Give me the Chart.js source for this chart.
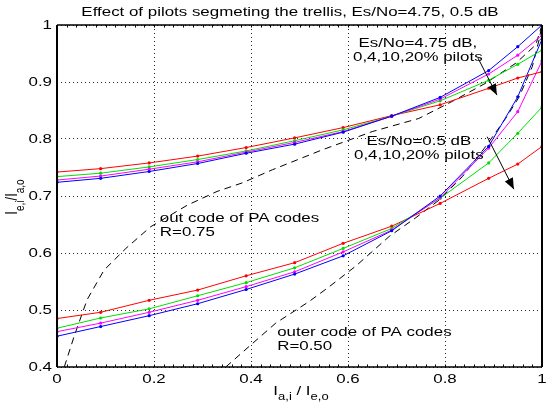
<!DOCTYPE html>
<html><head><meta charset="utf-8">
<script src="https://cdn.jsdelivr.net/npm/chart.js@4.4.1/dist/chart.umd.min.js"></script>
<style>html,body{margin:0;padding:0;background:#fff}canvas{display:block}</style>
</head><body>
<canvas id="c" width="546" height="405"></canvas>
<script>
// sample points along I_a,i (shared by all pilot curves)
const X_PTS = [0, 0.09, 0.19, 0.29, 0.39, 0.49, 0.59, 0.69, 0.79, 0.89, 0.95, 1.0];

// Es/No = 4.75 dB
const HI_P0  = [0.724, 0.731, 0.743, 0.757, 0.775, 0.791, 0.812, 0.840, 0.873, 0.920, 0.962, 1.000];
const HI_P4  = [0.728, 0.735, 0.747, 0.760, 0.777, 0.794, 0.813, 0.840, 0.870, 0.914, 0.947, 0.982];
const HI_P10 = [0.734, 0.740, 0.751, 0.764, 0.779, 0.797, 0.816, 0.840, 0.867, 0.903, 0.931, 0.956];
const HI_P20 = [0.742, 0.748, 0.758, 0.770, 0.785, 0.802, 0.820, 0.841, 0.860, 0.889, 0.907, 0.918];

// Es/No = 0.5 dB
const LO_P0  = [0.454, 0.471, 0.490, 0.511, 0.536, 0.563, 0.595, 0.639, 0.700, 0.787, 0.874, 0.975];
const LO_P4  = [0.462, 0.477, 0.496, 0.517, 0.541, 0.567, 0.602, 0.640, 0.697, 0.784, 0.848, 0.937];
const LO_P10 = [0.468, 0.486, 0.502, 0.525, 0.548, 0.574, 0.608, 0.643, 0.696, 0.758, 0.810, 0.856];
const LO_P20 = [0.485, 0.496, 0.517, 0.535, 0.560, 0.583, 0.617, 0.647, 0.687, 0.731, 0.756, 0.787];

// outer PA code curves (dashed)
const R75_X = [0.015, 0.035, 0.062, 0.097, 0.142, 0.193, 0.269, 0.33, 0.382, 0.444, 0.547, 0.65, 0.746, 0.815, 0.884, 0.946, 0.987, 1.0];
const R75_Y = [0.40, 0.453, 0.518, 0.57, 0.608, 0.646, 0.684, 0.708, 0.723, 0.746, 0.781, 0.813, 0.836, 0.866, 0.898, 0.933, 0.965, 1.0];
const R50_X = [0.348, 0.396, 0.451, 0.52, 0.56, 0.616, 0.685, 0.74, 0.788, 0.836, 0.884, 0.925, 0.953, 0.98, 0.994, 1.0];
const R50_Y = [0.40, 0.436, 0.477, 0.515, 0.54, 0.577, 0.629, 0.662, 0.693, 0.734, 0.787, 0.836, 0.874, 0.927, 0.974, 1.0];

const TITLE = 'Effect of pilots segmeting the trellis, Es/No=4.75, 0.5 dB';

const BLUE = '#0000ff', MAG = '#ff00ff', GRN = '#00e000', RED = '#ff0000';
const FONT = '"Liberation Sans", Arial, Helvetica, sans-serif';
const SX = 1.3; // the original text is stretched horizontally

const pts = ys => X_PTS.map((x, i) => ({ x, y: ys[i] }));
const zip = (xs, ys) => xs.map((x, i) => ({ x, y: ys[i] }));

const solid = (data, c) => ({
  data, borderColor: c, backgroundColor: c, borderWidth: 1,
  pointRadius: 1.6, pointBorderWidth: 0, pointBackgroundColor: c, tension: 0
});
const dashed = data => ({
  data, borderColor: '#000', borderWidth: 1, borderDash: [7, 5], pointRadius: 0, tension: 0
});

// text + arrows, placed in data coordinates
const NOTES = [
  { lines: ['Es/No=4.75 dB,', '0,4,10,20% pilots'], x: 0.744, y: 0.968, align: 'center' },
  { lines: ['Es/No=0.5 dB', '0,4,10,20% pilots'], x: 0.746, y: 0.795, align: 'center' },
  { lines: ['out code of PA codes', 'R=0.75'], x: 0.212, y: 0.660, align: 'left' },
  { lines: ['outer code of PA codes', 'R=0.50'], x: 0.454, y: 0.461, align: 'left' }
];
const ARROWS = [
  [[0.868, 0.942], [0.907, 0.877]],
  [[0.887, 0.804], [0.942, 0.712]]
];

function txt(ctx, s, x, y, align, size) {
  ctx.save();
  ctx.translate(x, y); ctx.scale(SX, 1);
  ctx.font = size + 'px ' + FONT;
  ctx.textAlign = align; ctx.textBaseline = 'middle'; ctx.fillStyle = '#000';
  ctx.fillText(s, 0, 0);
  ctx.restore();
}

// parts: [text, size, baseline shift]
function subLabel(ctx, parts) {
  let w = 0;
  parts.forEach(p => { ctx.font = p[1] + 'px ' + FONT; w += ctx.measureText(p[0]).width; });
  let x = -w / 2;
  ctx.textBaseline = 'alphabetic'; ctx.textAlign = 'left'; ctx.fillStyle = '#000';
  parts.forEach(p => { ctx.font = p[1] + 'px ' + FONT; ctx.fillText(p[0], x, p[2]); x += ctx.measureText(p[0]).width; });
}

const decor = {
  id: 'decor',
  afterDraw(chart) {
    const { ctx, chartArea: a, scales: { x, y } } = chart;
    ctx.save();
    // frame
    ctx.strokeStyle = '#000';
    ctx.lineWidth = 1.5;
    ctx.beginPath();
    ctx.moveTo(a.left, a.top); ctx.lineTo(a.right, a.top);
    ctx.moveTo(a.left, a.bottom); ctx.lineTo(a.right, a.bottom);
    ctx.stroke();
    ctx.lineWidth = 2;
    ctx.beginPath();
    ctx.moveTo(a.left, a.top); ctx.lineTo(a.left, a.bottom);
    ctx.moveTo(a.right, a.top); ctx.lineTo(a.right, a.bottom);
    ctx.stroke();
    // minor ticks on x
    ctx.lineWidth = 1;
    ctx.beginPath();
    for (let v = 0.02; v < 1; v += 0.02) {
      const px = Math.round(x.getPixelForValue(v)) + 0.5;
      ctx.moveTo(px, a.top); ctx.lineTo(px, a.top + 2.5);
      ctx.moveTo(px, a.bottom); ctx.lineTo(px, a.bottom - 2.5);
    }
    ctx.stroke();

    // tick labels
    x.ticks.forEach(t => {
      const s = Math.abs(t.value) < 1e-9 ? '0' : Math.abs(t.value - 1) < 1e-9 ? '1' : t.value.toFixed(1);
      txt(ctx, s, x.getPixelForValue(t.value), a.bottom + 12, 'center', 13);
    });
    y.ticks.forEach(t => {
      const s = Math.abs(t.value - 1) < 1e-9 ? '1' : t.value.toFixed(1);
      txt(ctx, s, a.left - 5, y.getPixelForValue(t.value), 'right', 13);
    });

    // title
    txt(ctx, TITLE, 290, 12, 'center', 13);

    // axis titles
    ctx.save();
    ctx.translate(301, 395); ctx.scale(SX, 1);
    subLabel(ctx, [['I', 13, 0], ['a,i', 10, 5], [' / ', 13, 0], ['I', 13, 0], ['e,o', 10, 5]]);
    ctx.restore();
    ctx.save();
    ctx.translate(17, 197); ctx.scale(SX, 1); ctx.rotate(-Math.PI / 2);
    subLabel(ctx, [['I', 13, 0], ['e,i', 10, 5], ['/', 13, 0], ['I', 13, 0], ['a,o', 10, 5]]);
    ctx.restore();

    // notes
    NOTES.forEach(n => {
      const px = x.getPixelForValue(n.x), py = y.getPixelForValue(n.y);
      n.lines.forEach((l, i) => txt(ctx, l, px, py + i * 14, n.align, 13));
    });

    // arrows
    ARROWS.forEach(([p, q]) => {
      const x1 = x.getPixelForValue(p[0]), y1 = y.getPixelForValue(p[1]);
      const x2 = x.getPixelForValue(q[0]), y2 = y.getPixelForValue(q[1]);
      const ang = Math.atan2(y2 - y1, x2 - x1);
      ctx.strokeStyle = '#000'; ctx.fillStyle = '#000'; ctx.lineWidth = 1;
      ctx.beginPath(); ctx.moveTo(x1, y1); ctx.lineTo(x2, y2); ctx.stroke();
      const L = 11, W = 4.5;
      ctx.beginPath();
      ctx.moveTo(x2, y2);
      ctx.lineTo(x2 - L * Math.cos(ang) + W * Math.sin(ang), y2 - L * Math.sin(ang) - W * Math.cos(ang));
      ctx.lineTo(x2 - L * Math.cos(ang) - W * Math.sin(ang), y2 - L * Math.sin(ang) + W * Math.cos(ang));
      ctx.closePath(); ctx.fill();
    });
    ctx.restore();
  }
};

new Chart(document.getElementById('c'), {
  type: 'line',
  data: {
    datasets: [
      solid(pts(HI_P0), BLUE), solid(pts(HI_P4), MAG), solid(pts(HI_P10), GRN), solid(pts(HI_P20), RED),
      solid(pts(LO_P0), BLUE), solid(pts(LO_P4), MAG), solid(pts(LO_P10), GRN), solid(pts(LO_P20), RED),
      dashed(zip(R75_X, R75_Y)), dashed(zip(R50_X, R50_Y))
    ]
  },
  options: {
    responsive: false, animation: false,
    layout: { padding: { left: 0, right: 3, top: 25, bottom: 0 } },
    plugins: { legend: { display: false }, tooltip: { enabled: false } },
    scales: {
      x: {
        type: 'linear', min: 0, max: 1,
        ticks: { stepSize: 0.2, display: false },
        grid: { color: 'rgba(0,0,0,0.85)', lineWidth: 1, drawTicks: false },
        border: { display: false, dash: [1, 3] },
        afterFit: s => { s.height = 38; s.paddingLeft = 0; s.paddingRight = 0; }
      },
      y: {
        type: 'linear', min: 0.4, max: 1,
        ticks: { stepSize: 0.1, display: false },
        grid: { color: 'rgba(0,0,0,0.85)', lineWidth: 1, drawTicks: false },
        border: { display: false, dash: [1, 3] },
        afterFit: s => { s.width = 57; }
      }
    }
  },
  plugins: [decor]
});
</script>
</body></html>
